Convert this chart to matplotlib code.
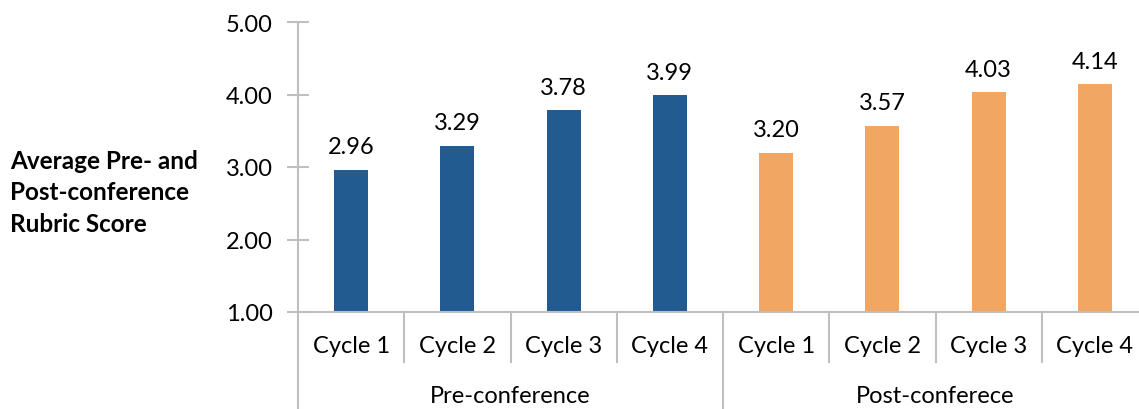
import matplotlib
matplotlib.use("Agg")
import matplotlib.pyplot as plt
from matplotlib.lines import Line2D
import matplotlib.transforms as mtransforms

plt.rcParams['font.family'] = ['Lato', 'DejaVu Sans']

# data
groups = ["Pre-conference", "Post-conferece"]
cycles = ["Cycle 1", "Cycle 2", "Cycle 3", "Cycle 4"]
pre_scores = [2.96, 3.29, 3.78, 3.99]
post_scores = [3.20, 3.57, 4.03, 4.14]

blue = "#215B8F"
orange = "#F2A664"
grid_gray = "#BFBFBF"

W, H = 1139, 410
fig = plt.figure(figsize=(W / 100, H / 100), dpi=100)

# axes runs past the right edge like the original
left, right, top, bottom = 298, 1148, 23, 313
ax = fig.add_axes([left / W, 1 - bottom / H, (right - left) / W, (bottom - top) / H])

scores = pre_scores + post_scores
colors = [blue] * len(pre_scores) + [orange] * len(post_scores)
xs = list(range(len(scores)))

ax.bar(xs, [s - 1 for s in scores], bottom=1, width=0.32, color=colors)

for x, s in zip(xs, scores):
    ax.annotate(f"{s:.2f}", (x, s), xytext=(0, 9), textcoords="offset points",
                ha="center", va="bottom", fontsize=17)

ax.set_xlim(-0.5, len(scores) - 0.5)
ax.set_ylim(1, 5)
ax.set_yticks([1, 2, 3, 4, 5])
ax.set_yticklabels([f"{v:.2f}" for v in [1, 2, 3, 4, 5]], fontsize=17)
ax.set_xticks([])
ax.tick_params(axis="y", direction="inout", length=16, width=1.5, color=grid_gray, pad=10)

for side in ["top", "right"]:
    ax.spines[side].set_visible(False)
for side in ["left", "bottom"]:
    ax.spines[side].set_color(grid_gray)
    ax.spines[side].set_linewidth(1.5)

# two level category axis
trans = mtransforms.blended_transform_factory(ax.transData, ax.transAxes)
ah = bottom - top
cyc_y = (bottom - 347) / ah
grp_y = (bottom - 397) / ah
short_y = (bottom - 363) / ah
long_y = (bottom - 420) / ah

for i, x in enumerate(xs):
    ax.text(x, cyc_y, cycles[i % 4], transform=trans, ha="center", va="center", fontsize=17)

for g, name in enumerate(groups):
    ax.text(g * 4 + 1.5, grp_y, name, transform=trans, ha="center", va="center", fontsize=17)

for k in range(len(scores) + 1):
    xb = k - 0.5
    y_end = long_y if k % 4 == 0 else short_y
    ax.add_line(Line2D([xb, xb], [0, y_end], transform=trans, color=grid_gray,
                       linewidth=1.5, clip_on=False))

fig.text(10 / W, 1 - 193 / H, "Average Pre- and\nPost-conference\nRubric Score",
         ha="left", va="center", fontsize=17.5, fontweight="bold", linespacing=1.45)

fig.savefig("out.png", dpi=100)
